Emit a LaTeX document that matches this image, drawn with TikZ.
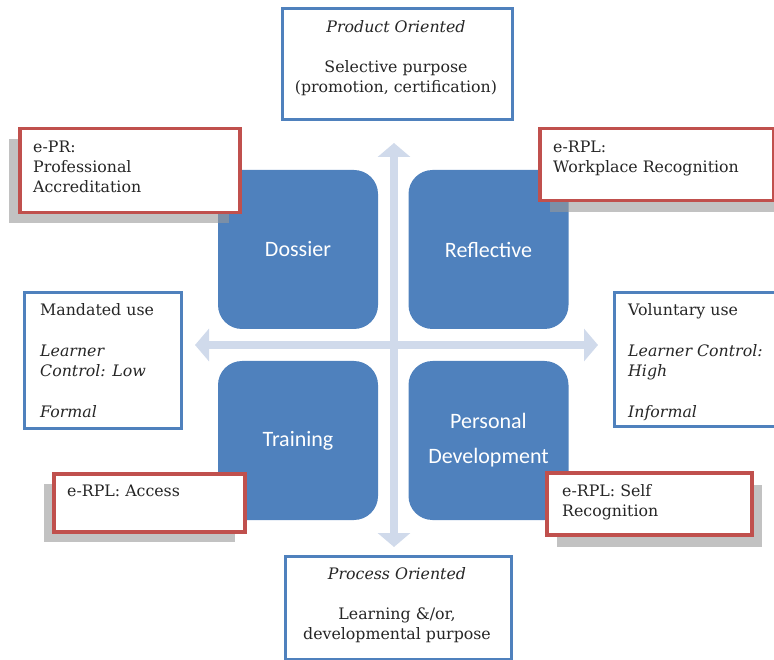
\documentclass[tikz,border=0pt]{standalone}
\usepackage{fontspec}
\setmainfont{DejaVu Serif}
\newfontfamily\quadfont{Carlito}
\usetikzlibrary{arrows.meta,shadows}
\definecolor{qblue}{HTML}{4F81BD}
\definecolor{qred}{HTML}{C0504D}
\definecolor{axiscol}{RGB}{208,218,235}
\begin{document}
\begin{tikzpicture}[x=1pt,y=-1pt,
  quad/.style={fill=qblue, draw=none, rounded corners=24pt, minimum width=160pt, minimum height=159pt, inner sep=0pt, text=white, font=\quadfont\fontsize{22}{35}\selectfont, align=center},
  bluebox/.style={draw=qblue, line width=3pt, fill=white, anchor=north west, inner sep=0pt},
  redbox/.style={draw=qred, line width=3.5pt, fill=white, anchor=north west, inner sep=0pt},
  shad/.style 2 args={drop shadow={shadow xshift=#1, shadow yshift=#2, opacity=.6, fill=black!40}},
  txt/.style={font=\fontsize{15.8}{20}\selectfont, text=black!85, inner sep=0pt, align=left, anchor=north west},
  ctxt/.style={font=\fontsize{15.8}{20}\selectfont, text=black!85, inner sep=0pt, align=center, anchor=north},
  axisline/.style={draw=axiscol, line width=8pt, {Triangle[width=32pt,length=14pt]}-{Triangle[width=32pt,length=14pt]}}
]
\useasboundingbox (0,0) rectangle (774,660);
\clip (0,0) rectangle (774,660);

% axes
\coordinate (vt) at (394,143);
\coordinate (vb) at (394,547);
\coordinate (hl) at (195,345);
\coordinate (hr) at (598,345);
\draw[axisline] (vb) -- (vt);
\draw[axisline] (hl) -- (hr);

% quadrants
\node[quad] (dossier) at (298,249.5) {Dossier};
\node[quad] (reflective) at (488.5,249.5) {Reflective};
\node[quad] (training) at (298,440.5) {Training};
\node[quad] (personal) at (488.5,440.5) {Personal\\Development};

% red boxes with shadows
\node[redbox, shad={-11pt}{-10pt}, minimum width=220pt, minimum height=84pt] (epr) at (18,127) {};
\node[txt] (eprtxt) at (33,140.5) {e-PR:\\Professional\\Accreditation};

\node[redbox, shad={10pt}{-11pt}, minimum width=234pt, minimum height=72pt] (wpr) at (538,127) {};
\node[txt] (wprtxt) at (553,140.5) {e-RPL:\\Workplace Recognition};

\node[redbox, shad={-10pt}{-10pt}, minimum width=191pt, minimum height=58pt] (acc) at (52,472) {};
\node[txt] (acctxt) at (67,484.5) {e-RPL: Access};

\node[redbox, shad={10pt}{-12pt}, minimum width=205pt, minimum height=62pt] (self) at (545,471) {};
\node[txt] (selftxt) at (562,484.5) {e-RPL: Self\\Recognition};

% blue boxes
\node[bluebox, minimum width=230pt, minimum height=111pt] (prod) at (281,7) {};
\node[ctxt] (prodtxt) at (396,20.5) {\textit{Product Oriented}\\[20pt]Selective purpose\\(promotion, certification)};

\node[bluebox, minimum width=157pt, minimum height=136pt] (mand) at (23,291) {};
\node[txt] (mandtxt) at (40,303.5) {Mandated use\\[21pt]\textit{Learner}\\\textit{Control: Low}\\[21pt]\textit{Formal}};

\node[bluebox, minimum width=180pt, minimum height=134pt] (vol) at (613,291) {};
\node[txt] (voltxt) at (628,303.5) {Voluntary use\\[21pt]\textit{Learner Control:}\\\textit{High}\\[21pt]\textit{Informal}};

\node[bluebox, minimum width=226pt, minimum height=103pt] (proc) at (284,555) {};
\node[ctxt] (proctxt) at (397,567.5) {\textit{Process Oriented}\\[20pt]Learning \&/or,\\developmental purpose};
\end{tikzpicture}
\end{document}
